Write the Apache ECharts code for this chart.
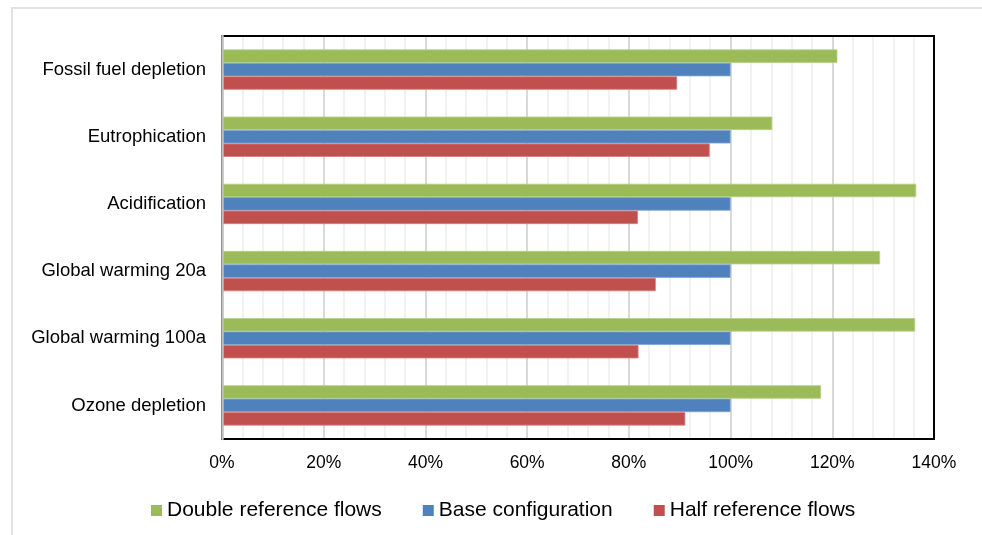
<!DOCTYPE html>
<html>
<head>
<meta charset="utf-8">
<script src="https://cdn.jsdelivr.net/npm/echarts@6/dist/echarts.min.js"></script>
<style>
html,body{margin:0;padding:0;background:#fff;}
#chart{width:982px;height:535px;}
</style>
</head>
<body>
<div id="chart"></div>
<script>
const categories = ["Fossil fuel depletion","Eutrophication","Acidification","Global warming 20a","Global warming 100a","Ozone depletion"];
const doubleFlows = [121.0, 108.2, 136.5, 129.4, 136.3, 117.8];
const baseConfig = [100, 100, 100, 100, 100, 100];
const halfFlows = [89.5, 95.9, 81.8, 85.3, 81.9, 91.1];
const xTicks = [0, 20, 40, 60, 80, 100, 120, 140];

const chart = echarts.init(document.getElementById('chart'));
const font = 'Liberation Sans, Arial, sans-serif';
chart.setOption({
  animation: false,
  graphic: [{
    type: 'rect',
    shape: {x: 12, y: 8, width: 980, height: 540},
    style: {fill: 'none', stroke: '#d9d9d9', lineWidth: 1.5},
    silent: true, z: -1
  }],
  legend: {
    bottom: 9,
    left: 146,
    itemWidth: 11,
    itemHeight: 11,
    itemGap: 41,
    icon: 'rect',
    itemStyle: {borderWidth: 0},
    textStyle: {fontFamily: font, fontSize: 21, color: '#000'},
    data: ['Double reference flows','Base configuration','Half reference flows']
  },
  grid: {
    left: 222, right: 48, top: 36, bottom: 96,
    show: true, borderColor: '#000', borderWidth: 2, backgroundColor: 'transparent', z: 5
  },
  xAxis: {
    type: 'value',
    min: xTicks[0], max: xTicks[xTicks.length - 1], interval: 20,
    axisLine: {show: false},
    axisTick: {show: false},
    axisLabel: {formatter: '{value}%', fontFamily: font, fontSize: 17.5, color: '#000', margin: 15},
    splitLine: {show: true, lineStyle: {color: '#d9d9d9', width: 2}},
    minorTick: {show: false, splitNumber: 5},
    minorSplitLine: {show: true, lineStyle: {color: '#eeeeee', width: 1.5}}
  },
  yAxis: {
    type: 'category',
    inverse: true,
    data: categories,
    z: 10,
    axisLine: {show: true, lineStyle: {color: '#bfbfbf', width: 2.5}},
    axisTick: {show: false},
    axisLabel: {fontFamily: font, fontSize: 18.5, color: '#000', margin: 16}
  },
  series: [
    {name: 'Double reference flows', type: 'bar', data: doubleFlows, barGap: '0%', barCategoryGap: '40%',
     itemStyle: {color: '#9BBB59', borderColor: '#b5cf83', borderWidth: 0.8}},
    {name: 'Base configuration', type: 'bar', data: baseConfig, barGap: '0%', barCategoryGap: '40%',
     itemStyle: {color: '#4F81BD', borderColor: '#7fa3d1', borderWidth: 0.8}},
    {name: 'Half reference flows', type: 'bar', data: halfFlows, barGap: '0%', barCategoryGap: '40%',
     itemStyle: {color: '#C0504D', borderColor: '#d48482', borderWidth: 0.8}}
  ]
});
</script>
</body>
</html>
